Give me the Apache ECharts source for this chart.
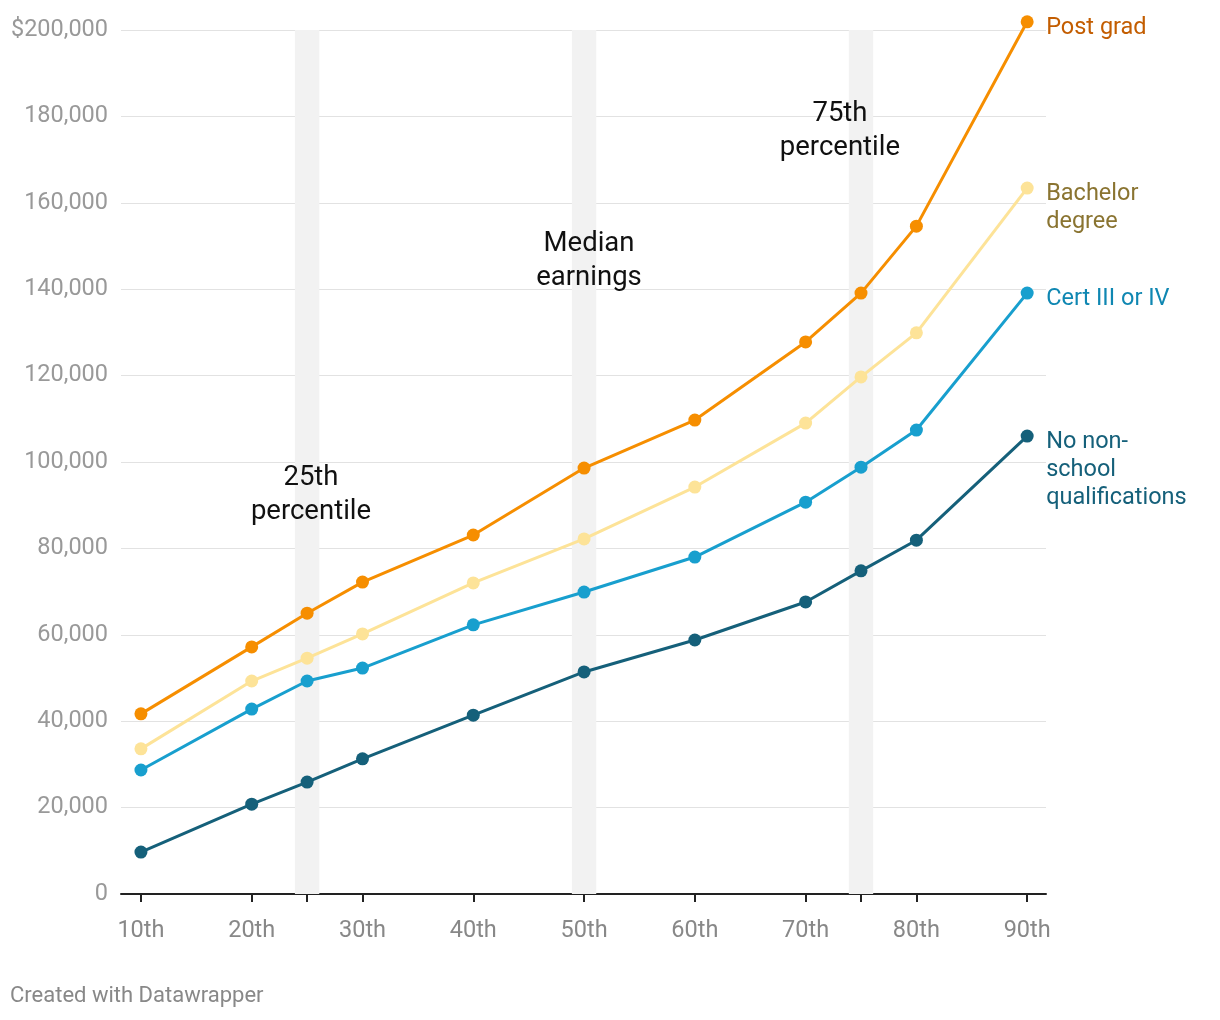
<!DOCTYPE html>
<html><head><meta charset="utf-8">
<script src="https://cdn.jsdelivr.net/npm/echarts@6/dist/echarts.min.js"></script>
<style>html,body{margin:0;padding:0;background:#fff}#c{width:1220px;height:1020px}</style>
</head><body><div id="c"></div>
<script>
const percentiles = [10, 20, 25, 30, 40, 50, 60, 70, 75, 80, 90];
const postGrad   = [41.7, 57.2, 65.0, 72.2, 83.1, 98.6, 109.7, 127.8, 139.1, 154.6, 201.9].map(v => v * 1000);
const bachelor   = [33.6, 49.3, 54.6, 60.2, 72.0, 82.2, 94.2, 109.0, 119.7, 129.9, 163.4].map(v => v * 1000);
const certIIIIV  = [28.7, 42.8, 49.3, 52.3, 62.3, 69.9, 78.0, 90.7, 98.8, 107.4, 139.1].map(v => v * 1000);
const noNonSchool= [9.7, 20.8, 25.9, 31.3, 41.4, 51.4, 58.8, 67.6, 74.8, 81.9, 106.0].map(v => v * 1000);
const seriesNames = ['Post grad', 'Bachelor\ndegree', 'Cert III or IV', 'No non-\nschool\nqualifications'];
const xLabelValues = [10, 20, 30, 40, 50, 60, 70, 80, 90];
const bands = [[23.9, 26.1], [48.9, 51.1], [73.9, 76.1]];
const annotations = [
  { text: '25th\npercentile', x: 25.35, y: 92400 },
  { text: 'Median\nearnings', x: 50.45, y: 146500 },
  { text: '75th\npercentile', x: 73.1, y: 176600 }
];

const lineColors = ['#f68e00', '#fde398', '#189fce', '#15607a'];
const labelColors = ['#c35d00', '#8a7431', '#0f87b2', '#15607a'];
const allData = [postGrad, bachelor, certIIIIV, noNonSchool];
const font = 'Roboto, "Noto Sans", sans-serif';

const series = allData.map((vals, i) => ({
  type: 'line',
  name: seriesNames[i],
  data: percentiles.map((p, j) => [p, vals[j]]),
  clip: false,
  z: 10 - i,
  symbol: 'circle',
  symbolSize: 13,
  lineStyle: { color: lineColors[i], width: 3 },
  itemStyle: { color: lineColors[i] },
  emphasis: { disabled: true },
  endLabel: {
    show: true,
    formatter: seriesNames[i],
    color: labelColors[i],
    fontFamily: font,
    fontSize: 23.5,
    lineHeight: 28,
    align: 'left',
    verticalAlign: 'top',
    offset: [11, -8]
  }
}));

series.push({
  type: 'line',
  data: [],
  silent: true,
  markArea: {
    silent: true,
    itemStyle: { color: '#f2f2f2' },
    data: bands.map(b => [{ xAxis: b[0] }, { xAxis: b[1] }])
  },
  z: 1
});

series.push({
  type: 'scatter',
  data: annotations.map(a => ({ value: [a.x, a.y], label: { formatter: a.text } })),
  symbolSize: 1,
  itemStyle: { color: '#ffffff', opacity: 0 },
  silent: true,
  z: 20,
  emphasis: { disabled: true },
  label: {
    show: true,
    position: 'inside',
    color: '#111111',
    opacity: 1,
    textBorderWidth: 0,
    fontFamily: font,
    fontSize: 27.5,
    lineHeight: 34,
    align: 'center',
    verticalAlign: 'middle'
  }
});

const chart = echarts.init(document.getElementById('c'), null, { renderer: 'canvas' });
chart.setOption({
  animation: false,
  backgroundColor: '#fff',
  grid: { left: 121, right: 174, top: 30, bottom: 126, containLabel: false },
  xAxis: {
    type: 'value',
    min: 8.2,
    max: 91.7,
    splitLine: { show: false },
    axisLine: { show: true, onZero: false, lineStyle: { color: '#222', width: 2 } },
    axisTick: { show: true, customValues: percentiles, length: 8, lineStyle: { color: '#222', width: 2 } },
    axisLabel: {
      customValues: xLabelValues,
      formatter: v => v + 'th',
      color: '#888',
      fontFamily: font,
      fontSize: 23.5,
      margin: 25
    }
  },
  yAxis: {
    type: 'value',
    min: 0,
    max: 200000,
    interval: 20000,
    axisLine: { show: false },
    axisTick: { show: false },
    splitLine: { lineStyle: { color: '#e2e2e2', width: 1 } },
    axisLabel: {
      formatter: v => (v === 200000 ? '$' : '') + v.toLocaleString('en-US'),
      color: '#999',
      fontFamily: font,
      fontSize: 23.5,
      margin: 13
    }
  },
  series: series,
  graphic: [{
    type: 'text',
    left: 10,
    top: 985,
    style: { text: 'Created with Datawrapper', fill: '#888', font: '22px Roboto, sans-serif' }
  }]
});
</script></body></html>
